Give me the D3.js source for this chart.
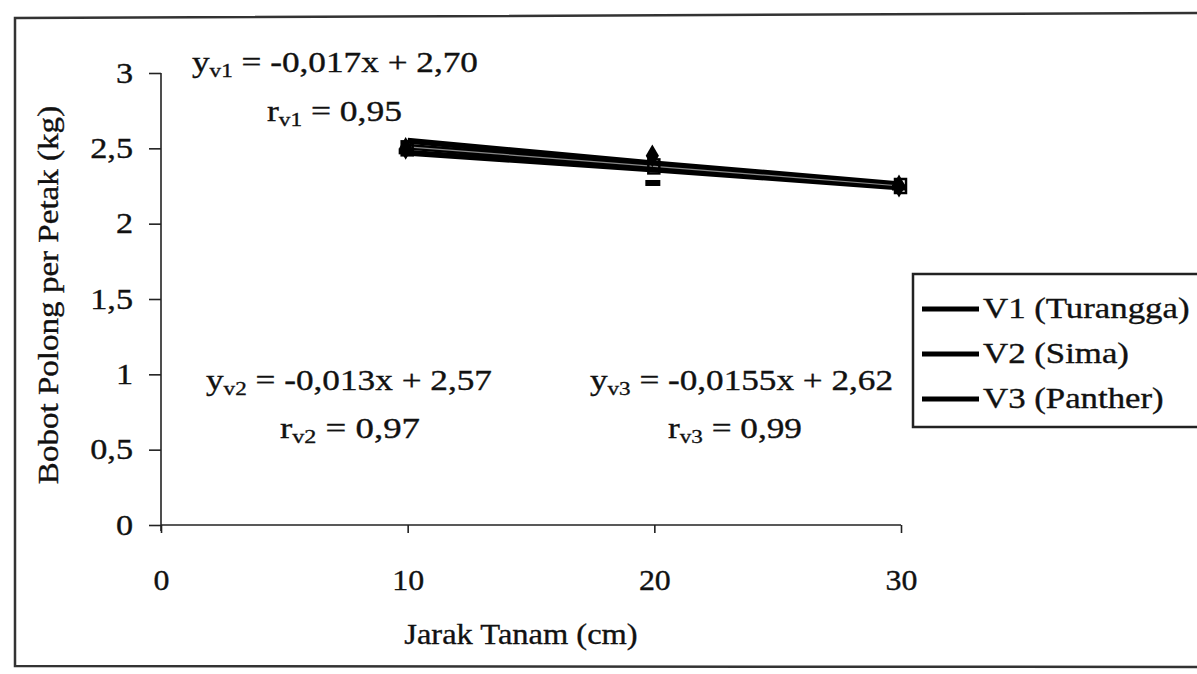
<!DOCTYPE html>
<html><head><meta charset="utf-8">
<script src="https://cdn.jsdelivr.net/npm/d3@7"></script>
<style>body{margin:0;background:#fff}svg{display:block}</style>
</head><body>
<svg id="c" width="1197" height="674"></svg>
<script>
const xValues = [10, 20, 30];
const seriesNames = ["V1 (Turangga)", "V2 (Sima)", "V3 (Panther)"];
const v1Line = [2.55, 2.40, 2.26];
const v2Line = [2.47, 2.36, 2.24];
const v3Line = [2.51, 2.38, 2.25];
const v1Points = [2.50, 2.45, 2.25];
const v2Points = [2.48, 2.27, 2.24];
const v3Points = [2.50, 2.38, 2.25];
const yTicks = [0, 0.5, 1, 1.5, 2, 2.5, 3];
const xTicks = [0, 10, 20, 30];
const equations = [
  {sub: "v1", eq: " = -0,017x + 2,70", r: " = 0,95"},
  {sub: "v2", eq: " = -0,013x + 2,57", r: " = 0,97"},
  {sub: "v3", eq: " = -0,0155x + 2,62", r: " = 0,99"}
];

const svg = d3.select("#c");
const x = d3.scaleLinear().domain([0, 30]).range([161, 901]);
const y = d3.scaleLinear().domain([0, 3]).range([525, 73]);
const fmt = d => String(d).replace(".", ",");
const FF = '"Liberation Serif", serif';
const FS = 29;
function stretch(sel, k) {
  sel.each(function () {
    const w = this.getComputedTextLength();
    d3.select(this).attr("textLength", w * k).attr("lengthAdjust", "spacingAndGlyphs");
  });
}
function ink(sel) {
  sel.attr("fill", "#111").attr("stroke", "#111").attr("stroke-width", 0.35);
}

// outer frame (open on the right, as in the scan)
svg.append("path").attr("d", "M1197,13L15,18L15,666L1197,667")
  .attr("fill", "none").attr("stroke", "#333").attr("stroke-width", 2.5);

// y axis
const ya = svg.append("g").attr("transform", "translate(161,0)")
  .call(d3.axisLeft(y).tickValues(yTicks).tickSize(12).tickPadding(16).tickFormat(fmt));
ya.select(".domain").attr("d", "M0,73V531").attr("stroke", "#222").attr("stroke-width", 1.6);
ya.selectAll(".tick line").attr("stroke", "#222").attr("stroke-width", 1.6);
ya.selectAll(".tick text").attr("font-size", FS).style("font-family", FF).call(ink);
stretch(ya.selectAll(".tick text"), 1.18);

// x axis
const xa = svg.append("g").attr("transform", "translate(0,525)")
  .call(d3.axisBottom(x).tickValues(xTicks).tickSize(8).tickPadding(36).tickFormat(fmt));
xa.select(".domain").attr("d", "M161,0H901").attr("stroke", "#222").attr("stroke-width", 1.6);
xa.selectAll(".tick line").attr("stroke", "#222").attr("stroke-width", 1.6);
xa.selectAll(".tick text").attr("font-size", FS).style("font-family", FF).call(ink);
stretch(xa.selectAll(".tick text"), 1.1);

// axis titles
const xt = svg.append("text").attr("x", 521).attr("y", 644).attr("text-anchor", "middle")
  .attr("font-size", FS).style("font-family", FF).call(ink).text("Jarak Tanam (cm)");
stretch(xt, 1.12);
const yt = svg.append("text").attr("transform", "translate(58,295) rotate(-90)").attr("text-anchor", "middle")
  .attr("font-size", FS).style("font-family", FF).call(ink).text("Bobot Polong per Petak (kg)");
stretch(yt, 1.14);

// lines
const lineGen = d3.line().x((d, i) => x(xValues[i])).y(d => y(d));
[v1Line, v2Line, v3Line].forEach(s => {
  svg.append("path").attr("d", lineGen(s)).attr("fill", "none")
    .attr("stroke", "#000").attr("stroke-width", 6);
});
svg.append("path").attr("d", lineGen(v3Line)).attr("fill", "none")
  .attr("stroke", "#888").attr("stroke-width", 1.2);

// markers
v3Points.forEach((v, i) => {
  svg.append("rect").attr("x", x(xValues[i]) - 6).attr("y", y(v) - 7)
    .attr("width", 11).attr("height", 14).attr("fill", "none")
    .attr("stroke", "#000").attr("stroke-width", 2.5);
});
v1Points.forEach((v, i) => {
  svg.append("path").attr("d", d3.symbol(d3.symbolDiamond, 150)())
    .attr("transform", `translate(${x(xValues[i]) - 2},${y(v)})`).attr("fill", "#000");
});
v2Points.forEach((v, i) => {
  svg.append("rect").attr("x", x(xValues[i]) - 9).attr("y", y(v) - 3)
    .attr("width", 15).attr("height", 6).attr("fill", "#000");
});

// equations
function eqText(e, ex, ey, ew, rx, ry, rw) {
  const t1 = svg.append("text").attr("x", ex).attr("y", ey).attr("font-size", FS)
    .style("font-family", FF).call(ink)
    .attr("textLength", ew).attr("lengthAdjust", "spacingAndGlyphs");
  t1.append("tspan").text("y");
  t1.append("tspan").attr("font-size", 19).attr("dy", 5).text(e.sub);
  t1.append("tspan").attr("dy", -5).text(e.eq);
  const t2 = svg.append("text").attr("x", rx).attr("y", ry).attr("font-size", FS)
    .style("font-family", FF).call(ink)
    .attr("textLength", rw).attr("lengthAdjust", "spacingAndGlyphs");
  t2.append("tspan").text("r");
  t2.append("tspan").attr("font-size", 19).attr("dy", 5).text(e.sub);
  t2.append("tspan").attr("dy", -5).text(e.r);
}
eqText(equations[0], 192, 72, 286, 267, 121, 135);
eqText(equations[1], 206, 390, 286, 280, 438, 140);
eqText(equations[2], 590, 390, 303, 668, 438, 134);

// legend
svg.append("rect").attr("x", 913).attr("y", 274).attr("width", 300).attr("height", 153)
  .attr("fill", "#fff").attr("stroke", "#222").attr("stroke-width", 2.5);
seriesNames.forEach((n, i) => {
  const ly = 309 + i * 45;
  svg.append("line").attr("x1", 922).attr("x2", 979).attr("y1", ly).attr("y2", ly)
    .attr("stroke", "#000").attr("stroke-width", 5);
  const t = svg.append("text").attr("x", 983).attr("y", ly + 9).attr("font-size", FS)
    .style("font-family", FF).call(ink).text(n);
  stretch(t, 1.2);
});
</script>
</body></html>
